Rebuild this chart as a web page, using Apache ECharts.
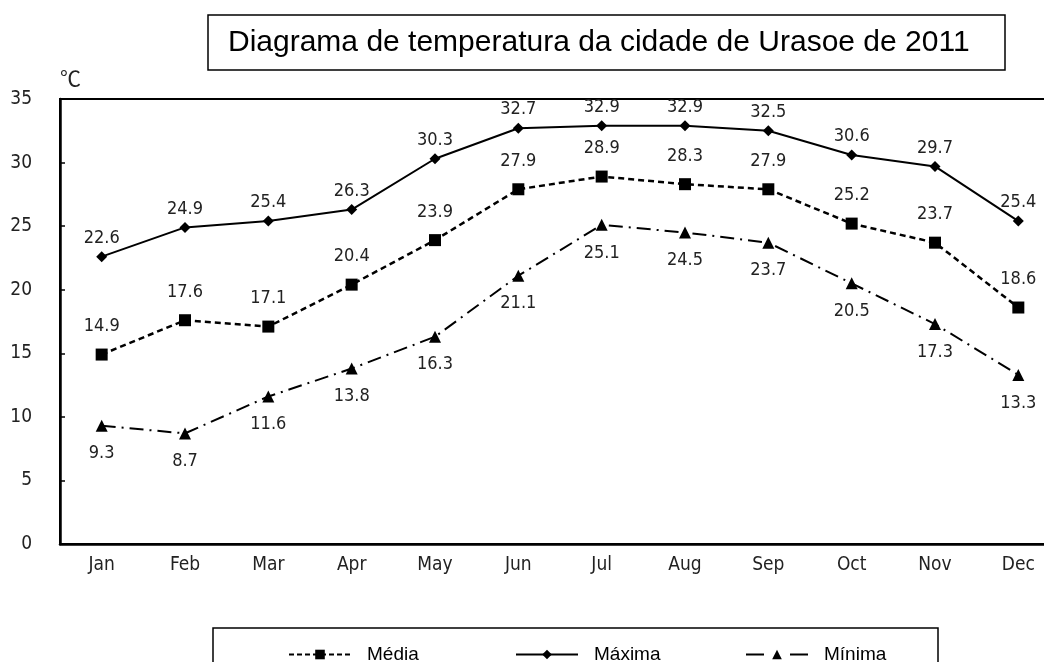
<!DOCTYPE html>
<html>
<head>
<meta charset="utf-8">
<script src="https://cdn.jsdelivr.net/npm/echarts@6/dist/echarts.min.js"></script>
<style>
  html, body { margin: 0; padding: 0; background: #fff; }
  #main { width: 1044px; height: 662px; }
</style>
</head>
<body>
<div id="main"></div>
<script>
// 月份
var months = ['Jan', 'Feb', 'Mar', 'Apr', 'May', 'Jun', 'Jul', 'Aug', 'Sep', 'Oct', 'Nov', 'Dec'];
// 温度数据
var media = [14.9, 17.6, 17.1, 20.4, 23.9, 27.9, 28.9, 28.3, 27.9, 25.2, 23.7, 18.6];
var maxima = [22.6, 24.9, 25.4, 26.3, 30.3, 32.7, 32.9, 32.9, 32.5, 30.6, 29.7, 25.4];
var minima = [9.3, 8.7, 11.6, 13.8, 16.3, 21.1, 25.1, 24.5, 23.7, 20.5, 17.3, 13.3];

var tickFont = '"Liberation Sans Narrow", "DejaVu Sans Condensed", sans-serif';
var textFont = '"Liberation Sans", Arial, sans-serif';

var myChart = echarts.init(document.getElementById('main'));

// 图例 每个单独放
function legendAt(item, left) {
    return {
        data: [item],
        left: left,
        top: 640,
        itemWidth: 62,
        itemHeight: 12,
        selectedMode: false,
        textStyle: {
            fontFamily: textFont,
            fontSize: 19,
            color: '#000',
            padding: [0, 0, 0, 11]
        }
    };
}

var option = {
    backgroundColor: '#fff',
    animation: false,
    grid: {
        left: 60,
        top: 99,
        right: -16,
        bottom: 118,
        outerBoundsMode: 'none',
        show: true,
        borderColor: '#000',
        borderWidth: 2
    },
    legend: [
        legendAt({ name: 'Média', lineStyle: { type: [5, 3] } }, 283),
        legendAt('Máxima', 510),
        legendAt({ name: 'Mínima', lineStyle: { type: [18, 26] } }, 740)
    ],
    xAxis: {
        type: 'category',
        data: months,
        boundaryGap: true,
        axisLine: { lineStyle: { color: '#000', width: 2.5 } },
        axisTick: { inside: true, length: 5, lineStyle: { color: '#000', width: 1.5 } },
        axisLabel: { color: '#222', fontSize: 19, fontFamily: tickFont, margin: 12 }
    },
    yAxis: {
        type: 'value',
        min: 0,
        max: 35,
        interval: 5,
        axisLine: { show: true, lineStyle: { color: '#000', width: 2.5 } },
        axisTick: { show: true, inside: true, length: 5, lineStyle: { color: '#000', width: 1.5 } },
        splitLine: { show: false },
        axisLabel: { color: '#222', fontSize: 19, fontFamily: tickFont, margin: 28 }
    },
    graphic: [
        {
            type: 'rect',
            shape: { x: 208, y: 15, width: 797, height: 55 },
            style: { fill: '#fff', stroke: '#000', lineWidth: 1.5 }
        },
        {
            type: 'text',
            x: 228,
            y: 43,
            style: {
                text: 'Diagrama de temperatura da cidade de Urasoe de 2011',
                font: '30px ' + textFont,
                fill: '#000',
                verticalAlign: 'middle'
            }
        },
        {
            type: 'text',
            x: 60,
            y: 78,
            style: {
                text: '℃',
                font: '21px "Noto Sans CJK JP", sans-serif',
                fill: '#222',
                verticalAlign: 'middle'
            }
        },
        {
            type: 'rect',
            shape: { x: 213, y: 628, width: 725, height: 60 },
            style: { fill: 'none', stroke: '#000', lineWidth: 1.5 }
        }
    ],
    series: [
        {
            name: 'Média',
            type: 'line',
            data: media,
            symbol: 'rect',
            symbolSize: 12,
            itemStyle: { color: '#000' },
            lineStyle: { color: '#000', width: 2.5, type: [6, 4] },
            label: {
                show: true, position: 'top', distance: 13,
                color: '#222', fontSize: 18, fontFamily: tickFont
            }
        },
        {
            name: 'Máxima',
            type: 'line',
            data: maxima,
            symbol: 'diamond',
            symbolSize: 11,
            itemStyle: { color: '#000' },
            lineStyle: { color: '#000', width: 2 },
            label: {
                show: true, position: 'top', distance: 4,
                color: '#222', fontSize: 18, fontFamily: tickFont
            }
        },
        {
            name: 'Mínima',
            type: 'line',
            data: minima,
            symbol: 'triangle',
            symbolSize: 12,
            itemStyle: { color: '#000' },
            lineStyle: { color: '#000', width: 2, type: [14, 6, 2, 6] },
            label: {
                show: true, position: 'bottom', distance: 13,
                color: '#222', fontSize: 18, fontFamily: tickFont
            }
        }
    ]
};

myChart.setOption(option);
</script>
</body>
</html>
